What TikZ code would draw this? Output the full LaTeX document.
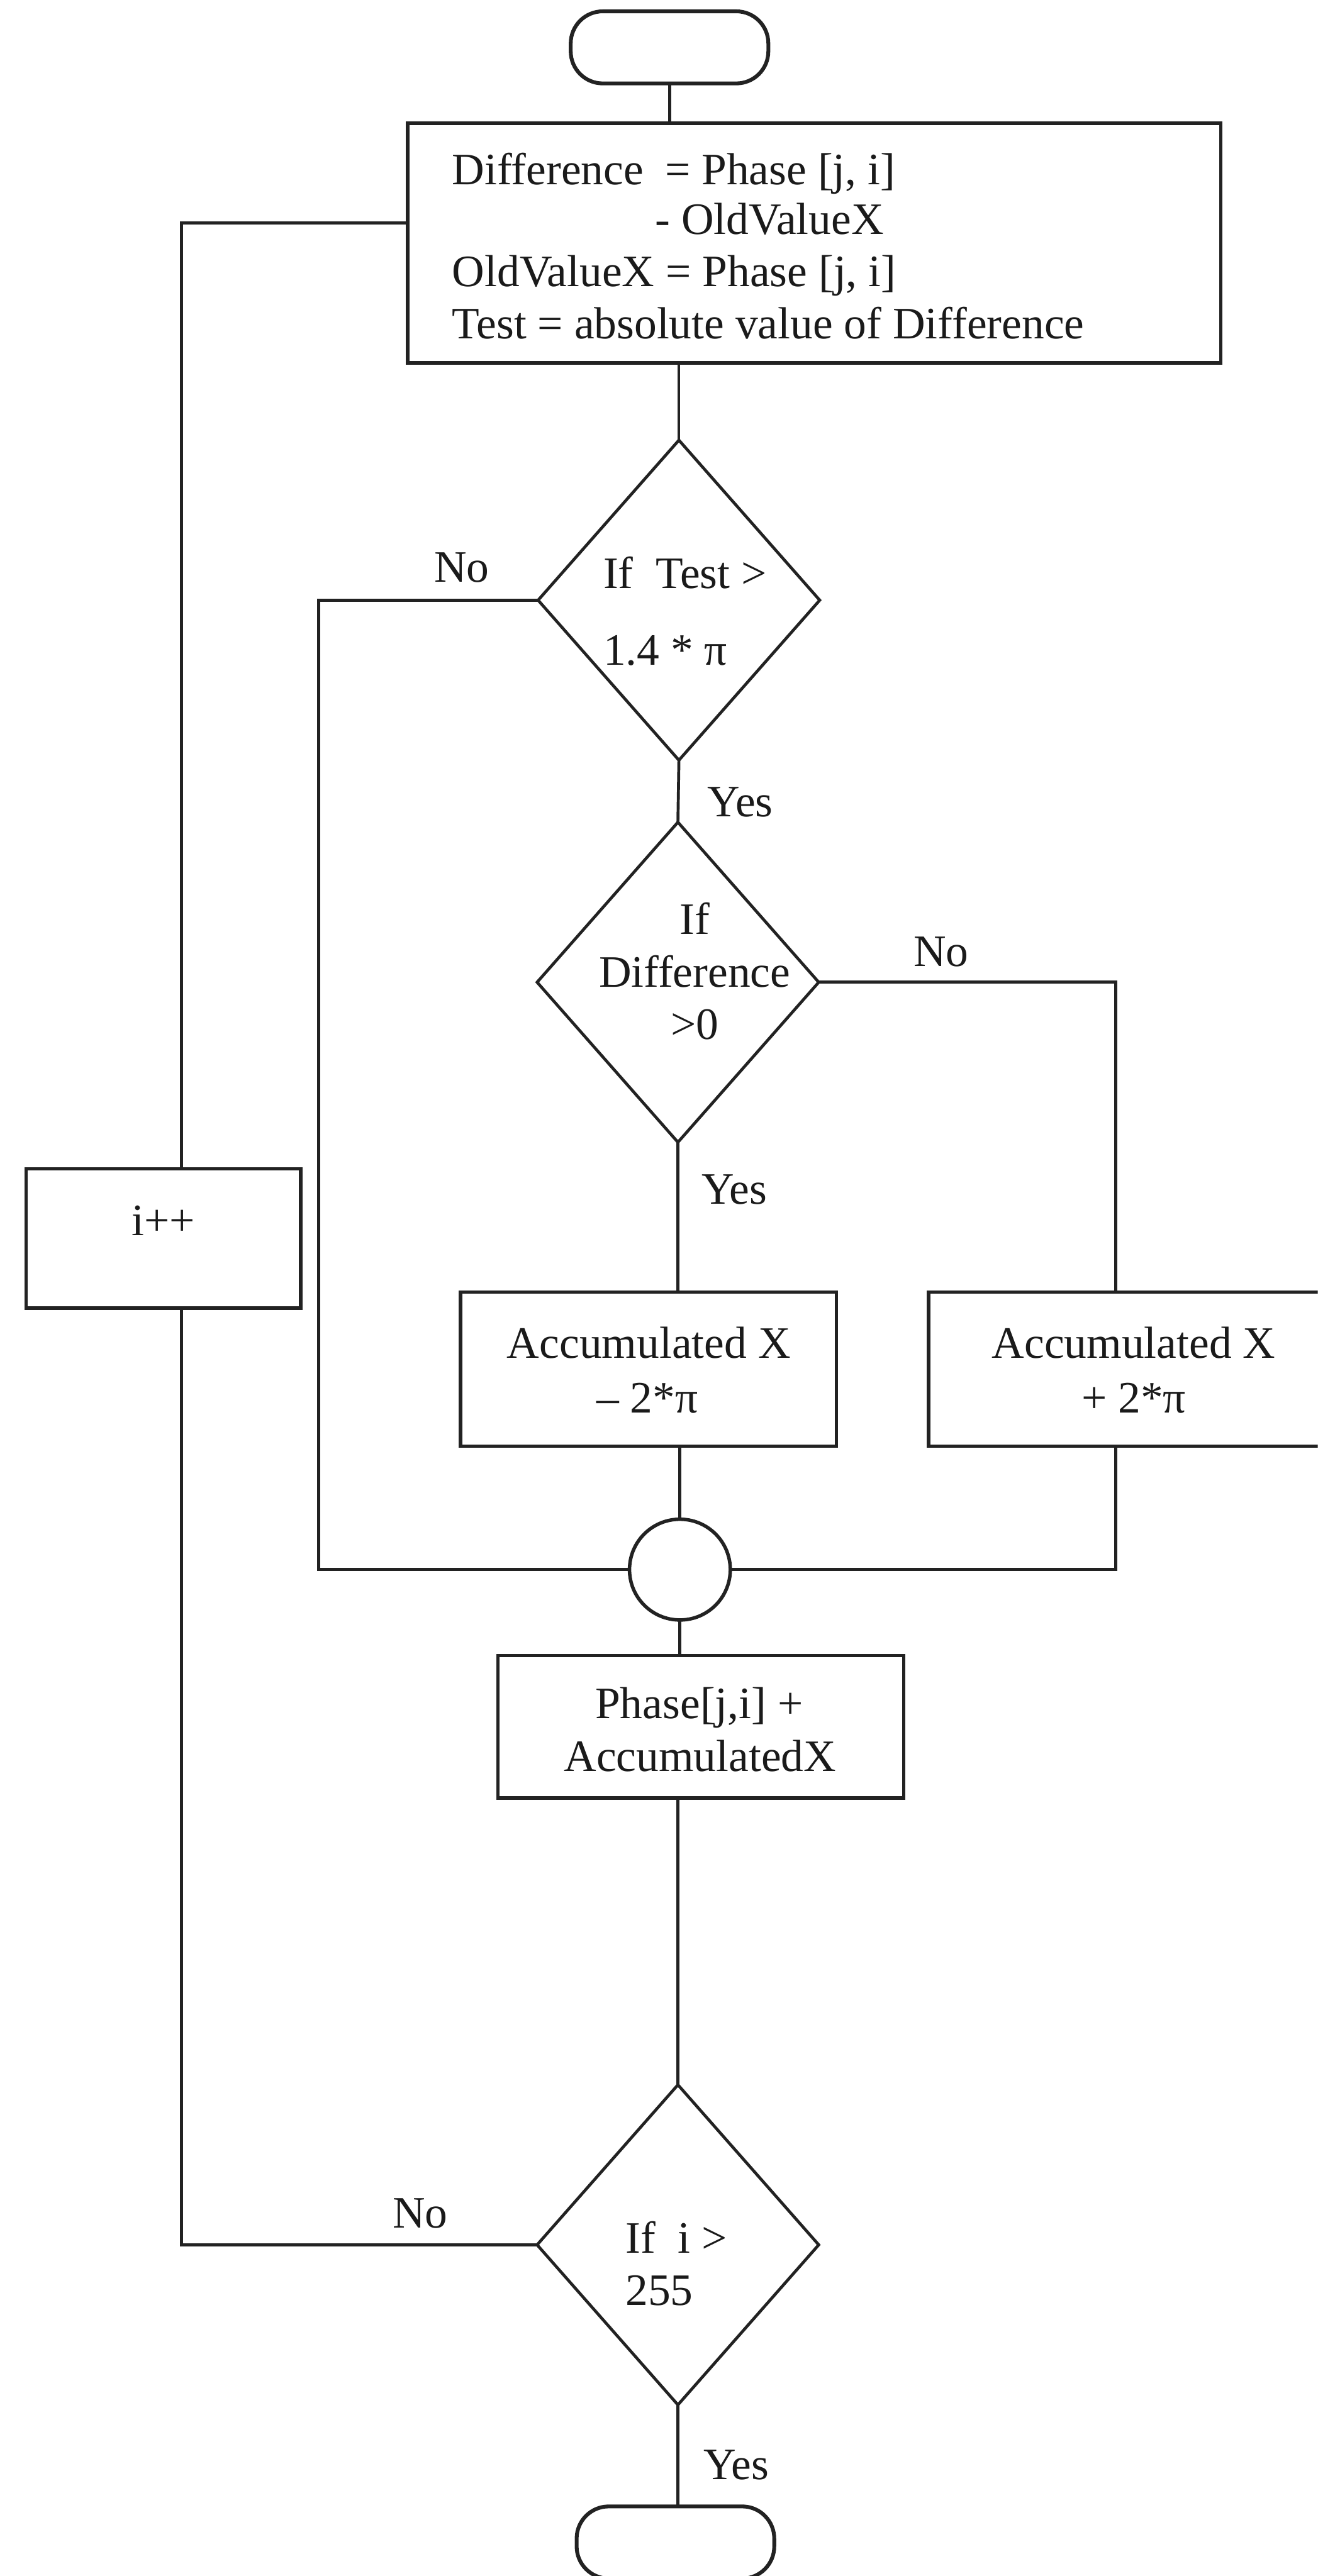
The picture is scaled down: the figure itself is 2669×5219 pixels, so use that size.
\documentclass[tikz,border=0pt]{standalone}
\usepackage{fontspec}
\setmainfont{Liberation Serif}
\usetikzlibrary{shapes.geometric}
\definecolor{ink}{HTML}{222222}
\definecolor{txt}{HTML}{1A1A1A}

\begin{document}
\begin{tikzpicture}[x=0.01cm, y=-0.01cm,
  every node/.style={inner sep=0pt, outer sep=0pt},
  lbl/.style={text=txt, font=\fontsize{25.9pt}{29.6pt}\selectfont},
  terminal/.style={draw=ink, line width=2.2pt, rounded corners=0.65cm,
    minimum width=4.0cm, minimum height=1.46cm},
  process/.style={draw=ink, line width=2pt},
  decision/.style={draw=ink, diamond, line width=1.7pt,
    minimum width=5.7cm, minimum height=6.48cm},
  junction/.style={draw=ink, circle, line width=2pt, minimum size=2.04cm},
  flow/.style={draw=ink, line width=1.7pt}
]
% page frame
\useasboundingbox (0,0) rectangle (2669,5219);
\clip (0,0) rectangle (2669,5219);
\fill[white] (0,0) rectangle (2669,5219);

% routing columns
\coordinate (colOut) at (368,0);
\coordinate (colIn) at (645,0);
\coordinate (colR) at (2260,0);
\coordinate (back) at (826,452);

% start
\node[terminal] (start) at (1356,96) {};

% difference / test computation
\node[process, minimum width=16.46cm, minimum height=4.85cm] (calc) at (1649,492.5) {};
\node[lbl, anchor=base west] (c1a) at (916,374) {Difference};
\node[lbl, anchor=base west] (c1b) at (1347,374) {= Phase [j, i]};
\node[lbl, anchor=base west] (c2) at (1327,475) {- OldValueX};
\node[lbl, anchor=base west] (c3) at (916,580) {OldValueX = Phase [j, i]};
\node[lbl, anchor=base west] (c4) at (916,686) {Test = absolute value of Difference};

% test > 1.4 pi
\node[decision] (d1) at (1375,1216) {};
\node[lbl, anchor=base west] (d1a) at (1222,1192) {If\ \ Test >};
\node[lbl, anchor=base west] (d1b) at (1222,1348) {1.4 * π};
\node[lbl, anchor=base] (no1) at (935,1179) {No};
\node[lbl, anchor=base west] (yes1) at (1433,1655) {Yes};

% sign of difference
\node[decision] (d2) at (1373,1990) {};
\node[lbl, anchor=base] (d2a) at (1407,1893) {If};
\node[lbl, anchor=base] (d2b) at (1407,2000) {Difference};
\node[lbl, anchor=base] (d2c) at (1407,2106) {>0};
\node[lbl, anchor=base] (no2) at (1906,1958) {No};
\node[lbl, anchor=base west] (yes2) at (1421,2440) {Yes};

% increment
\node[process, minimum width=5.56cm, minimum height=2.82cm] (inc) at (331,2509) {};
\node[lbl, anchor=base] (inct) at (331,2503) {i++};

% accumulate
\node[process, minimum width=7.61cm, minimum height=3.12cm] (accm) at (1313.5,2774) {};
\node[lbl, anchor=base] (accm1) at (1314,2752) {Accumulated X};
\node[lbl, anchor=base] (accm2) at (1311,2862) {– 2*π};
\node[process, minimum width=8.34cm, minimum height=3.12cm] (accp) at (2298,2774) {};
\node[lbl, anchor=base] (accp1) at (2296,2752) {Accumulated X};
\node[lbl, anchor=base] (accp2) at (2296,2862) {+ 2*π};

% merge point
\node[junction] (junc) at (1377,3180) {};

% corrected phase
\node[process, minimum width=8.21cm, minimum height=2.89cm] (phase) at (1419.5,3498.5) {};
\node[lbl, anchor=base] (ph1) at (1416,3482) {Phase[j,i] +};
\node[lbl, anchor=base] (ph2) at (1418,3589) {AccumulatedX};

% loop test
\node[decision] (d3) at (1373,4548) {};
\node[lbl, anchor=base west] (d3a) at (1267,4565) {If\ \ i >};
\node[lbl, anchor=base west] (d3b) at (1267,4670) {255};
\node[lbl, anchor=base] (no3) at (851,4514) {No};
\node[lbl, anchor=base west] (yes3) at (1425,5023) {Yes};

% end
\node[terminal] (stop) at (1368,5151) {};

% connectors
\draw[flow] (start.south) -- (start.south |- calc.north);
\draw[flow] (calc.south -| d1.north) -- (d1.north);
\draw[flow] (d1.west) -- (d1.west -| colIn) -- (colIn |- junc.west) -- (junc.west);
\draw[flow] (d1.south) -- (d2.north);
\draw[flow] (d2.east) -- (d2.east -| colR) -- (colR |- accp.north);
\draw[flow] (d2.south) -- (d2.south |- accm.north);
\draw[flow] (accm.south -| junc.north) -- (junc.north);
\draw[flow] (colR |- accp.south) -- (colR |- junc.east) -- (junc.east);
\draw[flow] (junc.south) -- (junc.south |- phase.north);
\draw[flow] (phase.south -| d3.north) -- (d3.north);
\draw[flow] (d3.west) -- (d3.west -| colOut) -- (colOut |- inc.south);
\draw[flow] (colOut |- inc.north) -- (colOut |- back) -- (back);
\draw[flow] (d3.south) -- (d3.south |- stop.north);
\end{tikzpicture}
\end{document}
